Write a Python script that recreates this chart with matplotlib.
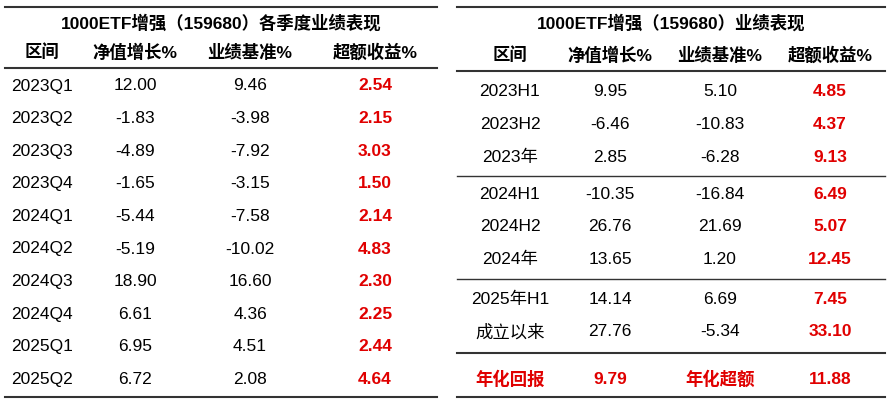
import matplotlib.pyplot as plt
from matplotlib.lines import Line2D

plt.rcParams['font.family'] = ['Liberation Sans', 'Noto Sans CJK SC']

W, H = 891, 407
RED = '#e00000'

# left table data
q_periods = ['2023Q1', '2023Q2', '2023Q3', '2023Q4', '2024Q1', '2024Q2',
             '2024Q3', '2024Q4', '2025Q1', '2025Q2']
q_nav = ['12.00', '-1.83', '-4.89', '-1.65', '-5.44', '-5.19', '18.90', '6.61', '6.95', '6.72']
q_bench = ['9.46', '-3.98', '-7.92', '-3.15', '-7.58', '-10.02', '16.60', '4.36', '4.51', '2.08']
q_excess = ['2.54', '2.15', '3.03', '1.50', '2.14', '4.83', '2.30', '2.25', '2.44', '4.64']

# right table data
h_periods = ['2023H1', '2023H2', '2023年', '2024H1', '2024H2', '2024年', '2025年H1', '成立以来']
h_nav = ['9.95', '-6.46', '2.85', '-10.35', '26.76', '13.65', '14.14', '27.76']
h_bench = ['5.10', '-10.83', '-6.28', '-16.84', '21.69', '1.20', '6.69', '-5.34']
h_excess = ['4.85', '4.37', '9.13', '6.49', '5.07', '12.45', '7.45', '33.10']
summary = ['年化回报', '9.79', '年化超额', '11.88']

headers = ['区间', '净值增长%', '业绩基准%', '超额收益%']

fig = plt.figure(figsize=(W / 100, H / 100), dpi=100)


def txt(x, y, s, **kw):
    fig.text(x / W, 1 - y / H, s, ha='center', va='center', fontsize=12.5, **kw)


def hline(x0, x1, y, lw=1.5):
    fig.add_artist(Line2D([x0 / W, x1 / W], [1 - y / H] * 2, color='#333333', lw=lw))


# left table
hline(5, 437, 7)
txt(221, 23, '1000ETF增强（159680）各季度业绩表现', fontweight='bold')
lcols = [42, 135, 250, 375]
for x, h in zip(lcols, headers):
    txt(x, 52, h, fontweight='bold')
hline(5, 437, 68)
for i in range(len(q_periods)):
    y = 86 + i * 32.6
    txt(lcols[0], y, q_periods[i])
    txt(lcols[1], y, q_nav[i])
    txt(lcols[2], y, q_bench[i])
    txt(lcols[3], y, q_excess[i], color=RED, fontweight='bold')
hline(5, 437, 397)

# right table
hline(457, 885, 7)
txt(671, 23, '1000ETF增强（159680）业绩表现', fontweight='bold')
rcols = [510, 610, 720, 830]
for x, h in zip(rcols, headers):
    txt(x, 55, h, fontweight='bold')
hline(457, 885, 71)
rows_y = [92, 124, 157, 194, 226, 259, 299, 332]
for i, y in enumerate(rows_y):
    txt(rcols[0], y, h_periods[i])
    txt(rcols[1], y, h_nav[i])
    txt(rcols[2], y, h_bench[i])
    txt(rcols[3], y, h_excess[i], color=RED, fontweight='bold')
for y in [176, 279]:
    hline(457, 885, y, lw=1)
hline(457, 885, 353)
for x, s in zip(rcols, summary):
    txt(x, 379, s, color=RED, fontweight='bold')
hline(457, 885, 397)

fig.savefig('out.png', dpi=100)
